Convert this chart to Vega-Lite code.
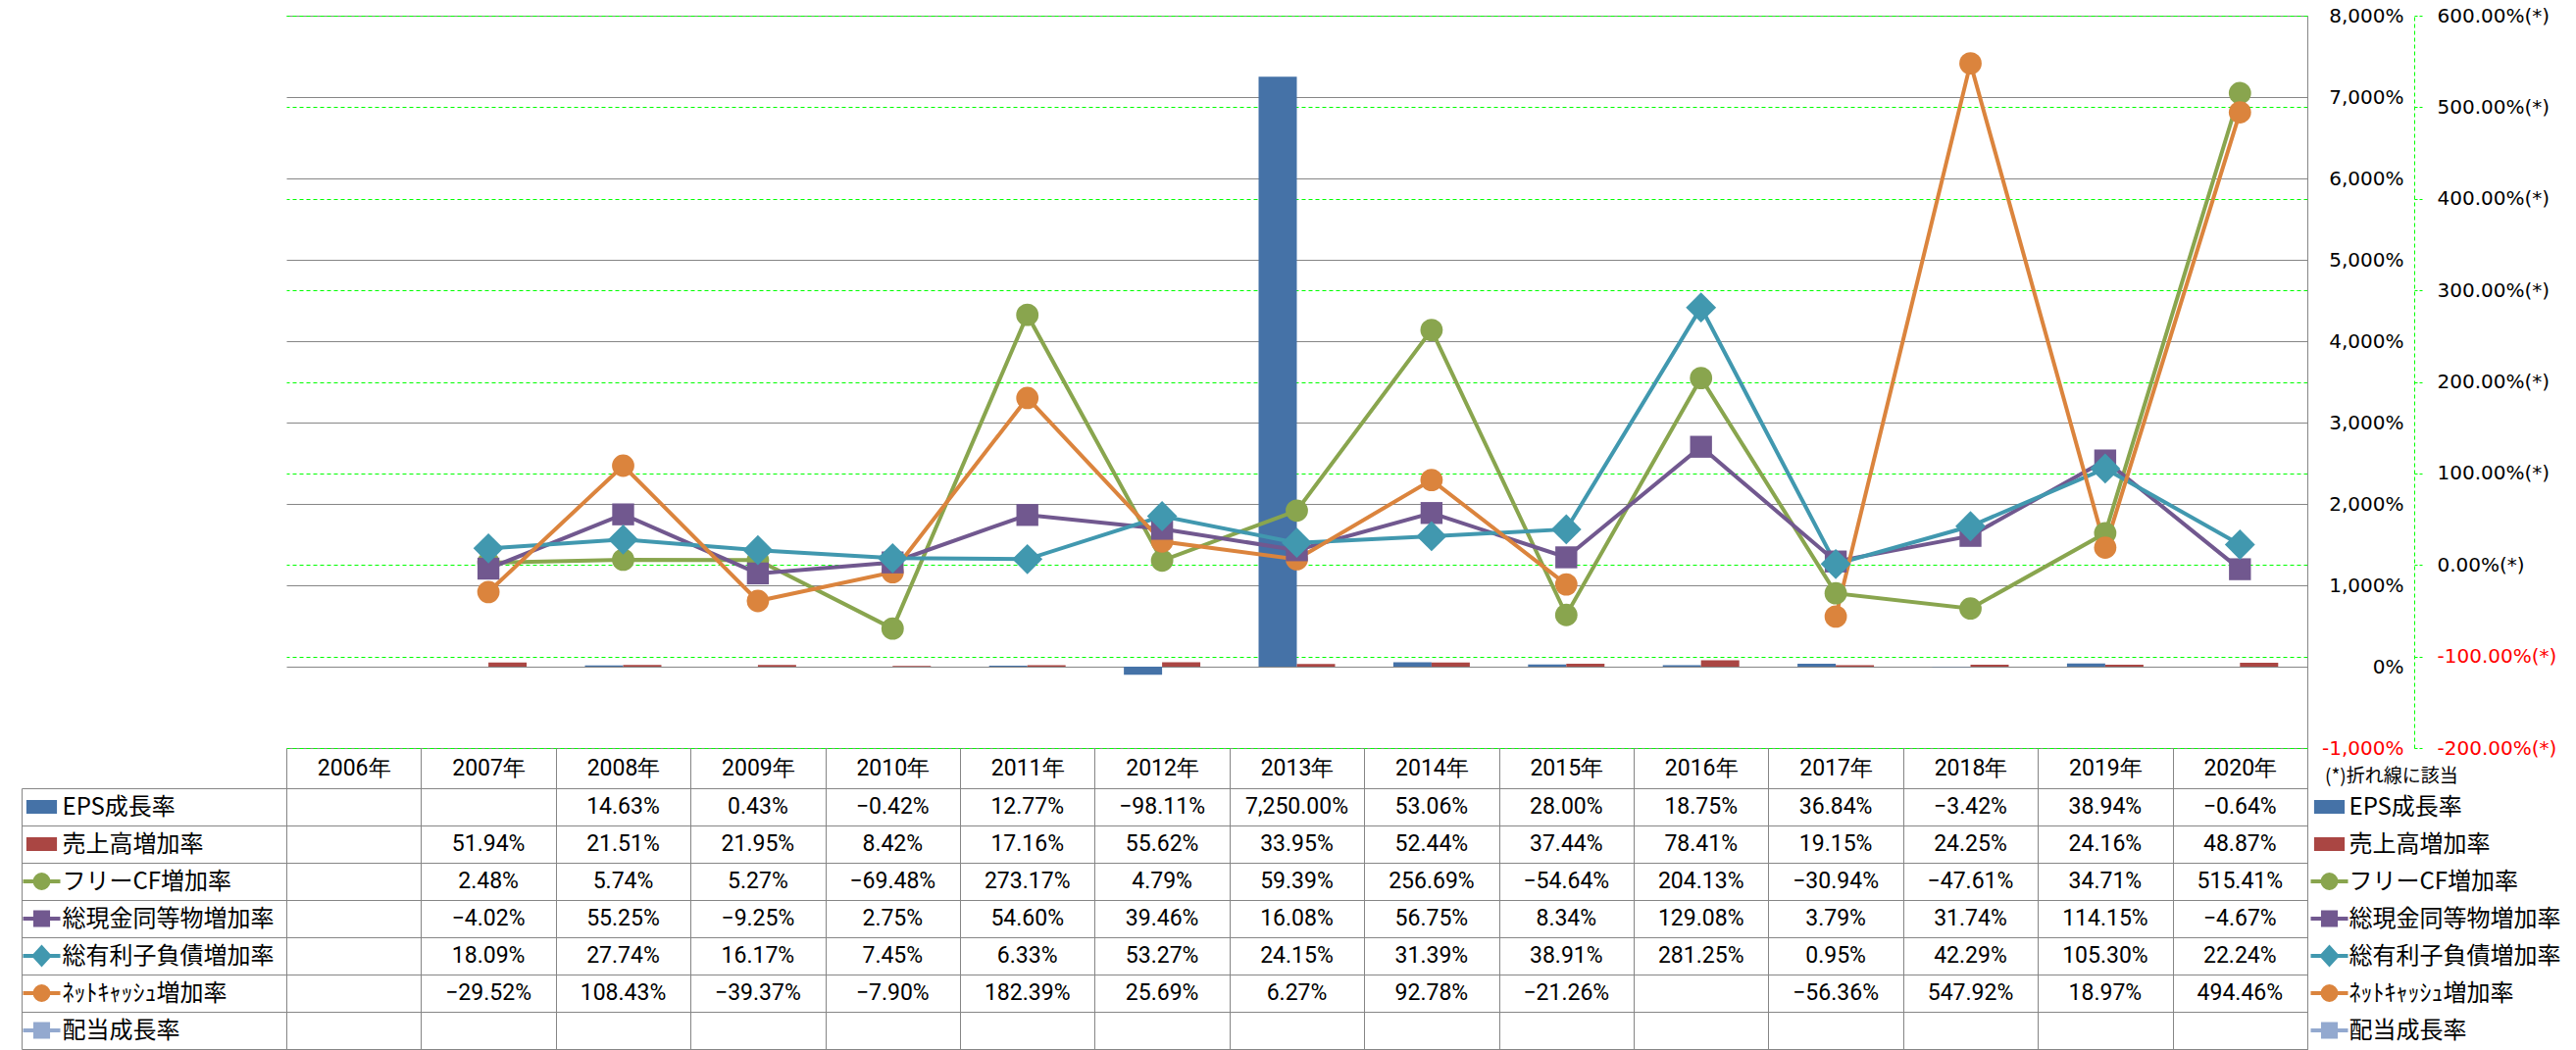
{
  "$schema": "https://vega.github.io/schema/vega-lite/v6.json",
  "padding": {"left": 21, "top": 6, "right": 5, "bottom": 2},
  "datasets": {
    "serieslist": [
      {"series": "EPS成長率"}, {"series": "売上高増加率"}, {"series": "フリーCF増加率"}, {"series": "総現金同等物増加率"},
      {"series": "総有利子負債増加率"}, {"series": "ﾈｯﾄｷｬｯｼｭ増加率"}, {"series": "配当成長率"}
    ],
    "rates": [
      {"year": "2008年", "series": "EPS成長率", "value": 0.1463},
      {"year": "2009年", "series": "EPS成長率", "value": 0.0043},
      {"year": "2010年", "series": "EPS成長率", "value": -0.0042},
      {"year": "2011年", "series": "EPS成長率", "value": 0.1277},
      {"year": "2012年", "series": "EPS成長率", "value": -0.9811},
      {"year": "2013年", "series": "EPS成長率", "value": 72.5},
      {"year": "2014年", "series": "EPS成長率", "value": 0.5306},
      {"year": "2015年", "series": "EPS成長率", "value": 0.28},
      {"year": "2016年", "series": "EPS成長率", "value": 0.1875},
      {"year": "2017年", "series": "EPS成長率", "value": 0.3684},
      {"year": "2018年", "series": "EPS成長率", "value": -0.0342},
      {"year": "2019年", "series": "EPS成長率", "value": 0.3894},
      {"year": "2020年", "series": "EPS成長率", "value": -0.0064},
      {"year": "2007年", "series": "売上高増加率", "value": 0.5194},
      {"year": "2008年", "series": "売上高増加率", "value": 0.2151},
      {"year": "2009年", "series": "売上高増加率", "value": 0.2195},
      {"year": "2010年", "series": "売上高増加率", "value": 0.0842},
      {"year": "2011年", "series": "売上高増加率", "value": 0.1716},
      {"year": "2012年", "series": "売上高増加率", "value": 0.5562},
      {"year": "2013年", "series": "売上高増加率", "value": 0.3395},
      {"year": "2014年", "series": "売上高増加率", "value": 0.5244},
      {"year": "2015年", "series": "売上高増加率", "value": 0.3744},
      {"year": "2016年", "series": "売上高増加率", "value": 0.7841},
      {"year": "2017年", "series": "売上高増加率", "value": 0.1915},
      {"year": "2018年", "series": "売上高増加率", "value": 0.2425},
      {"year": "2019年", "series": "売上高増加率", "value": 0.2416},
      {"year": "2020年", "series": "売上高増加率", "value": 0.4887},
      {"year": "2007年", "series": "フリーCF増加率", "value": 0.0248},
      {"year": "2008年", "series": "フリーCF増加率", "value": 0.0574},
      {"year": "2009年", "series": "フリーCF増加率", "value": 0.0527},
      {"year": "2010年", "series": "フリーCF増加率", "value": -0.6948},
      {"year": "2011年", "series": "フリーCF増加率", "value": 2.7317},
      {"year": "2012年", "series": "フリーCF増加率", "value": 0.0479},
      {"year": "2013年", "series": "フリーCF増加率", "value": 0.5939},
      {"year": "2014年", "series": "フリーCF増加率", "value": 2.5669},
      {"year": "2015年", "series": "フリーCF増加率", "value": -0.5464},
      {"year": "2016年", "series": "フリーCF増加率", "value": 2.0413},
      {"year": "2017年", "series": "フリーCF増加率", "value": -0.3094},
      {"year": "2018年", "series": "フリーCF増加率", "value": -0.4761},
      {"year": "2019年", "series": "フリーCF増加率", "value": 0.3471},
      {"year": "2020年", "series": "フリーCF増加率", "value": 5.1541},
      {"year": "2007年", "series": "総現金同等物増加率", "value": -0.0402},
      {"year": "2008年", "series": "総現金同等物増加率", "value": 0.5525},
      {"year": "2009年", "series": "総現金同等物増加率", "value": -0.0925},
      {"year": "2010年", "series": "総現金同等物増加率", "value": 0.0275},
      {"year": "2011年", "series": "総現金同等物増加率", "value": 0.546},
      {"year": "2012年", "series": "総現金同等物増加率", "value": 0.3946},
      {"year": "2013年", "series": "総現金同等物増加率", "value": 0.1608},
      {"year": "2014年", "series": "総現金同等物増加率", "value": 0.5675},
      {"year": "2015年", "series": "総現金同等物増加率", "value": 0.0834},
      {"year": "2016年", "series": "総現金同等物増加率", "value": 1.2908},
      {"year": "2017年", "series": "総現金同等物増加率", "value": 0.0379},
      {"year": "2018年", "series": "総現金同等物増加率", "value": 0.3174},
      {"year": "2019年", "series": "総現金同等物増加率", "value": 1.1415},
      {"year": "2020年", "series": "総現金同等物増加率", "value": -0.0467},
      {"year": "2007年", "series": "総有利子負債増加率", "value": 0.1809},
      {"year": "2008年", "series": "総有利子負債増加率", "value": 0.2774},
      {"year": "2009年", "series": "総有利子負債増加率", "value": 0.1617},
      {"year": "2010年", "series": "総有利子負債増加率", "value": 0.0745},
      {"year": "2011年", "series": "総有利子負債増加率", "value": 0.0633},
      {"year": "2012年", "series": "総有利子負債増加率", "value": 0.5327},
      {"year": "2013年", "series": "総有利子負債増加率", "value": 0.2415},
      {"year": "2014年", "series": "総有利子負債増加率", "value": 0.3139},
      {"year": "2015年", "series": "総有利子負債増加率", "value": 0.3891},
      {"year": "2016年", "series": "総有利子負債増加率", "value": 2.8125},
      {"year": "2017年", "series": "総有利子負債増加率", "value": 0.0095},
      {"year": "2018年", "series": "総有利子負債増加率", "value": 0.4229},
      {"year": "2019年", "series": "総有利子負債増加率", "value": 1.053},
      {"year": "2020年", "series": "総有利子負債増加率", "value": 0.2224},
      {"year": "2007年", "series": "ﾈｯﾄｷｬｯｼｭ増加率", "value": -0.2952},
      {"year": "2008年", "series": "ﾈｯﾄｷｬｯｼｭ増加率", "value": 1.0843},
      {"year": "2009年", "series": "ﾈｯﾄｷｬｯｼｭ増加率", "value": -0.3937},
      {"year": "2010年", "series": "ﾈｯﾄｷｬｯｼｭ増加率", "value": -0.079},
      {"year": "2011年", "series": "ﾈｯﾄｷｬｯｼｭ増加率", "value": 1.8239},
      {"year": "2012年", "series": "ﾈｯﾄｷｬｯｼｭ増加率", "value": 0.2569},
      {"year": "2013年", "series": "ﾈｯﾄｷｬｯｼｭ増加率", "value": 0.0627},
      {"year": "2014年", "series": "ﾈｯﾄｷｬｯｼｭ増加率", "value": 0.9278},
      {"year": "2015年", "series": "ﾈｯﾄｷｬｯｼｭ増加率", "value": -0.2126},
      {"year": "2016年", "series": "ﾈｯﾄｷｬｯｼｭ増加率", "value": null},
      {"year": "2017年", "series": "ﾈｯﾄｷｬｯｼｭ増加率", "value": -0.5636},
      {"year": "2018年", "series": "ﾈｯﾄｷｬｯｼｭ増加率", "value": 5.4792},
      {"year": "2019年", "series": "ﾈｯﾄｷｬｯｼｭ増加率", "value": 0.1897},
      {"year": "2020年", "series": "ﾈｯﾄｷｬｯｼｭ増加率", "value": 4.9446}
    ]
  },
  "concat": [
    {"width": 41, "height": 747, "data": {"name": "serieslist"}, "mark": {"type": "point", "opacity": 0}, "encoding": {}},
    {"width": 229, "height": 747, "data": {"name": "serieslist"}, "mark": {"type": "point", "opacity": 0}, "encoding": {}},
    {
      "width": 2061,
      "height": 747,
      "data": {"name": "rates"},
      "layer": [
        {
          "transform": [{"filter": {"field": "series", "oneOf": ["EPS成長率", "売上高増加率"]}}],
          "mark": {"type": "bar"},
          "encoding": {
            "x": {"field": "year", "type": "nominal", "scale": {"domain": ["2006年","2007年","2008年","2009年","2010年","2011年","2012年","2013年","2014年","2015年","2016年","2017年","2018年","2019年","2020年"], "paddingInner": 0, "paddingOuter": 0}, "axis": null},
            "xOffset": {"field": "series", "type": "nominal", "scale": {"domain": ["EPS成長率", "売上高増加率"], "paddingInner": 0, "paddingOuter": 0.762}},
            "y": {
              "field": "value", "type": "quantitative",
              "scale": {"domain": [-10, 80], "nice": false},
              "axis": {
                "orient": "right", "title": null,
                "values": [-10, 0, 10, 20, 30, 40, 50, 60, 70, 80],
                "labelExpr": "replace(format(datum.value, ',.0%'), '−', '-')",
                "labelColor": {"condition": {"test": "datum.value < 0", "value": "#FF0000"}, "value": "#000000"},
                "labelAlign": "right", "labelPadding": 98, "labelBaseline": "middle",
                "ticks": false, "tickSize": 0,
                "domain": true, "domainColor": "#868686",
                "grid": true, "gridColor": "#868686",
                "labelFont": "DejaVu Sans", "labelFontSize": 20,
                "labelFlush": false, "labelOverlap": false
              }
            },
            "color": {"field": "series", "type": "nominal", "scale": {"domain": ["EPS成長率","売上高増加率","フリーCF増加率","総現金同等物増加率","総有利子負債増加率","ﾈｯﾄｷｬｯｼｭ増加率","配当成長率"], "range": ["#4572A7","#AA4643","#89A54E","#71588F","#4198AF","#DB843D","#93A9CF"]}, "legend": null}
          }
        },
        {
          "encoding": {
            "x": {"field": "year", "type": "nominal", "scale": {"domain": ["2006年","2007年","2008年","2009年","2010年","2011年","2012年","2013年","2014年","2015年","2016年","2017年","2018年","2019年","2020年"], "paddingInner": 0, "paddingOuter": 0}, "axis": null},
            "y": {
              "field": "value", "type": "quantitative",
              "scale": {"domain": [-2, 6], "nice": false},
              "axis": {
                "orient": "right", "offset": 109, "title": null,
                "values": [-2, -1, 0, 1, 2, 3, 4, 5, 6],
                "labelExpr": "replace(format(datum.value, '.2%'), '−', '-') + '(*)'",
                "labelColor": {"condition": {"test": "datum.value < 0", "value": "#FF0000"}, "value": "#000000"},
                "labelAlign": "left", "labelPadding": 15, "labelBaseline": "middle",
                "tickSize": 8, "tickColor": "#00FF00", "tickDash": [3, 2],
                "domainColor": "#00FF00", "domainDash": [4, 3],
                "grid": true, "gridColor": "#00FF00", "gridDash": [4, 3],
                "labelFont": "DejaVu Sans", "labelFontSize": 20,
                "labelFlush": false, "labelOverlap": false
              }
            },
            "color": {"field": "series", "type": "nominal", "legend": null}
          },
          "layer": [
            {
              "transform": [{"filter": {"field": "series", "oneOf": ["フリーCF増加率","総現金同等物増加率","総有利子負債増加率","配当成長率"]}}],
              "mark": {"type": "line", "strokeWidth": 4}
            },
            {
              "transform": [{"filter": {"and": [{"field": "series", "equal": "ﾈｯﾄｷｬｯｼｭ増加率"}, {"field": "year", "oneOf": ["2007年","2008年","2009年","2010年","2011年","2012年","2013年","2014年","2015年"]}]}}],
              "mark": {"type": "line", "strokeWidth": 4}
            },
            {
              "transform": [{"filter": {"and": [{"field": "series", "equal": "ﾈｯﾄｷｬｯｼｭ増加率"}, {"field": "year", "oneOf": ["2017年","2018年","2019年","2020年"]}]}}],
              "mark": {"type": "line", "strokeWidth": 4}
            },
            {
              "transform": [{"filter": {"field": "series", "oneOf": ["フリーCF増加率", "ﾈｯﾄｷｬｯｼｭ増加率"]}}],
              "mark": {"type": "point", "shape": "circle", "filled": true, "opacity": 1, "size": 520}
            },
            {
              "transform": [{"filter": {"field": "series", "oneOf": ["総現金同等物増加率"]}}],
              "mark": {"type": "point", "shape": "square", "filled": true, "opacity": 1, "size": 500}
            },
            {
              "transform": [{"filter": {"field": "series", "oneOf": ["総有利子負債増加率"]}}],
              "mark": {"type": "point", "shape": "diamond", "filled": true, "opacity": 1, "size": 950}
            }
          ]
        }
      ],
      "resolve": {"scale": {"y": "independent"}, "axis": {"y": "independent"}}
    },
    {"width": 45, "height": 747, "data": {"name": "serieslist"}, "mark": {"type": "point", "opacity": 0}, "encoding": {}},
    {"width": 225, "height": 747, "data": {"name": "serieslist"}, "mark": {"type": "point", "opacity": 0}, "encoding": {}},
    {
      "width": 41, "height": 266,
      "data": {"name": "serieslist"},
      "mark": {"type": "point", "filled": true, "opacity": 1, "size": 1444},
      "encoding": {
        "y": {"field": "series", "type": "nominal", "scale": {"domain": ["EPS成長率","売上高増加率","フリーCF増加率","総現金同等物増加率","総有利子負債増加率","ﾈｯﾄｷｬｯｼｭ増加率","配当成長率"], "paddingInner": 0, "paddingOuter": 0},
          "axis": {"orient": "left", "title": null, "labels": false, "ticks": false, "grid": false, "domain": true, "domainColor": "#868686"}},
        "color": {"field": "series", "type": "nominal", "legend": null},
        "shape": {"field": "series", "type": "nominal", "legend": null,
          "scale": {"domain": ["EPS成長率","売上高増加率","フリーCF増加率","総現金同等物増加率","総有利子負債増加率","ﾈｯﾄｷｬｯｼｭ増加率","配当成長率"], "range": [
            "M-0.82,-0.37H0.82V0.37H-0.82Z",
            "M-0.82,-0.37H0.82V0.37H-0.82Z",
            "M-1,-0.1H1V0.1H-1ZM0.47,0L0.434,0.18L0.332,0.332L0.18,0.434L0,0.47L-0.18,0.434L-0.332,0.332L-0.434,0.18L-0.47,0L-0.434,-0.18L-0.332,-0.332L-0.18,-0.434L0,-0.47L0.18,-0.434L0.332,-0.332L0.434,-0.18Z",
            "M-1,-0.1H1V0.1H-1ZM-0.45,-0.45H0.45V0.45H-0.45Z",
            "M-1,-0.1H1V0.1H-1ZM0,-0.6L0.55,0L0,0.6L-0.55,0Z",
            "M-1,-0.1H1V0.1H-1ZM0.47,0L0.434,0.18L0.332,0.332L0.18,0.434L0,0.47L-0.18,0.434L-0.332,0.332L-0.434,0.18L-0.47,0L-0.434,-0.18L-0.332,-0.332L-0.18,-0.434L0,-0.47L0.18,-0.434L0.332,-0.332L0.434,-0.18Z",
            "M-1,-0.1H1V0.1H-1ZM-0.45,-0.45H0.45V0.45H-0.45Z"
          ]}}
      }
    },
    {
      "width": 229, "height": 266,
      "data": {"name": "serieslist"},
      "mark": {"type": "point", "opacity": 0},
      "encoding": {
        "y": {"field": "series", "type": "nominal", "scale": {"domain": ["EPS成長率","売上高増加率","フリーCF増加率","総現金同等物増加率","総有利子負債増加率","ﾈｯﾄｷｬｯｼｭ増加率","配当成長率"], "paddingInner": 0, "paddingOuter": 0},
          "axis": {"orient": "left", "title": null, "ticks": false, "tickSize": 0, "domain": false, "grid": false, "labelAlign": "left", "labelPadding": 0, "labelBaseline": "middle", "labelFont": "Noto Sans CJK JP", "labelFontSize": 24, "labelColor": "#000000", "labelLimit": 400}}
      }
    },
    {
      "width": 2061,
      "height": 266,
      "view": {"stroke": "#868686"},
      "data": {"name": "rates"},
      "transform": [{"filter": {"field": "value", "valid": true}}],
      "mark": {"type": "text", "font": "Roboto", "fontSize": 23, "color": "#000000", "align": "center", "baseline": "middle"},
      "encoding": {
        "x": {"field": "year", "type": "nominal",
          "scale": {"domain": ["2006年","2007年","2008年","2009年","2010年","2011年","2012年","2013年","2014年","2015年","2016年","2017年","2018年","2019年","2020年"], "paddingInner": 0, "paddingOuter": 0},
          "axis": {"orient": "top", "title": null, "tickBand": "extent", "tickSize": 41, "tickColor": "#868686", "domainColor": "#868686", "grid": true, "gridColor": "#868686", "labelFont": "Roboto", "labelFontSize": 23, "labelColor": "#000000", "labelPadding": -20, "labelBaseline": "middle", "labelOverlap": false, "labelAngle": 0}},
        "y": {"field": "series", "type": "nominal",
          "scale": {"domain": ["EPS成長率","売上高増加率","フリーCF増加率","総現金同等物増加率","総有利子負債増加率","ﾈｯﾄｷｬｯｼｭ増加率","配当成長率"], "paddingInner": 0, "paddingOuter": 0},
          "axis": {"orient": "left", "title": null, "tickSize": 270, "tickBand": "extent", "tickColor": "#868686", "domainColor": "#868686", "labels": false, "grid": true, "gridColor": "#868686"}},
        "text": {"field": "value", "type": "quantitative", "format": ",.2%"}
      }
    },
    {
      "width": 45, "height": 266,
      "data": {"name": "serieslist"},
      "title": {"text": "(*)折れ線に該当", "anchor": "start", "align": "left", "dx": 18, "offset": 2, "font": "Noto Sans CJK JP", "fontSize": 19, "fontWeight": "normal", "color": "#000000"},
      "mark": {"type": "point", "filled": true, "opacity": 1, "size": 1444},
      "encoding": {
        "y": {"field": "series", "type": "nominal", "scale": {"domain": ["EPS成長率","売上高増加率","フリーCF増加率","総現金同等物増加率","総有利子負債増加率","ﾈｯﾄｷｬｯｼｭ増加率","配当成長率"], "paddingInner": 0, "paddingOuter": 0}, "axis": null},
        "color": {"field": "series", "type": "nominal", "legend": null},
        "shape": {"field": "series", "type": "nominal", "legend": null}
      }
    },
    {
      "width": 225, "height": 266,
      "data": {"name": "serieslist"},
      "mark": {"type": "point", "opacity": 0},
      "encoding": {
        "y": {"field": "series", "type": "nominal", "scale": {"domain": ["EPS成長率","売上高増加率","フリーCF増加率","総現金同等物増加率","総有利子負債増加率","ﾈｯﾄｷｬｯｼｭ増加率","配当成長率"], "paddingInner": 0, "paddingOuter": 0},
          "axis": {"orient": "left", "title": null, "ticks": false, "tickSize": 0, "domain": false, "grid": false, "labelAlign": "left", "labelPadding": 3, "labelBaseline": "middle", "labelFont": "Noto Sans CJK JP", "labelFontSize": 24, "labelColor": "#000000", "labelLimit": 400}}
      }
    }
  ],
  "columns": 5,
  "spacing": {"row": 41, "column": 0},
  "bounds": "flush",
  "align": "each",
  "config": {
    "view": {"stroke": null}
  }
}
